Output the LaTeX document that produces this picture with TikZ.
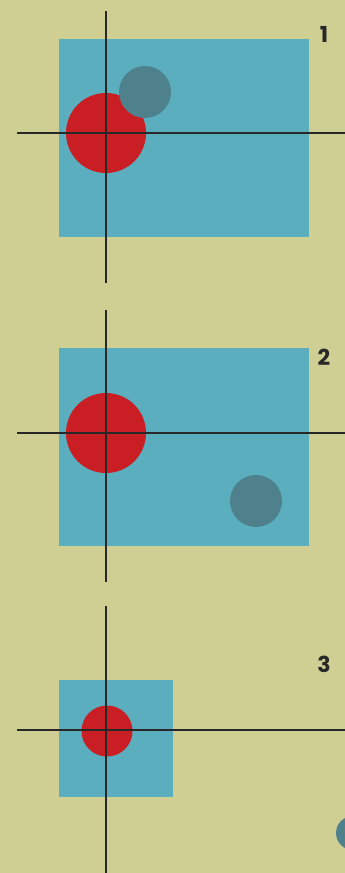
\documentclass[tikz,border=0pt]{standalone}
\usepackage{fontspec}
\setmainfont{Poppins}
\usepackage{xcolor}
\usetikzlibrary{positioning}
\definecolor{paper}{RGB}{208,207,147}
\definecolor{pool}{RGB}{91,174,190}
\definecolor{ballred}{RGB}{200,30,36}
\definecolor{ballgrey}{RGB}{78,129,140}
\definecolor{ink}{RGB}{40,40,40}

\begin{document}
\begin{tikzpicture}[x=1pt,y=-1pt,
					field/.style={fill=pool,draw=none,inner sep=0pt},
					bigball/.style={circle,fill=ballred,inner sep=0pt,minimum size=80pt},
					smallball/.style={circle,fill=ballred,inner sep=0pt,minimum size=51pt},
					target/.style={circle,fill=ballgrey,inner sep=0pt,minimum size=52pt},
					hair/.style={ink,line width=1.2pt},
					num/.style={font=\bfseries\fontsize{22}{22}\selectfont,text=ink,inner sep=0pt}]
				\fill[paper] (0,0) rectangle (345,873);
				\useasboundingbox (0,0) rectangle (345,873);
				% panel 1
				\node[field,minimum width=250pt,minimum height=198pt] (f1) at (184,138) {};
				\node[bigball] (r1) at (106,133) {};
				\node[target] (g1) at (145,92) {};
				\coordinate (t1) at (106,11);  \coordinate (b1) at (106,283);
				\coordinate (l1) at (17,133);  \coordinate (e1) at (345,133);
				\draw[hair] (t1)--(b1);
				\draw[hair] (l1)--(e1);
				\node[num] (n1) at (324,34) {1};
				% panel 2
				\node[field,minimum width=250pt,minimum height=198pt] (f2) at (184,447) {};
				\node[bigball] (r2) at (106,433) {};
				\node[target] (g2) at (256,501) {};
				\coordinate (t2) at (106,310); \coordinate (b2) at (106,582);
				\coordinate (l2) at (17,433);  \coordinate (e2) at (345,433);
				\draw[hair] (t2)--(b2);
				\draw[hair] (l2)--(e2);
				\node[num] (n2) at (324,357) {2};
				% panel 3
				\node[field,minimum width=114pt,minimum height=117pt] (f3) at (116,738.5) {};
				\node[smallball] (r3) at (107,731) {};
				\node[target,minimum size=34pt] (g3) at (353,833) {};
				\coordinate (t3) at (106,606); \coordinate (b3) at (106,873);
				\coordinate (l3) at (17,730);  \coordinate (e3) at (345,730);
				\draw[hair] (t3)--(b3);
				\draw[hair] (l3)--(e3);
				\node[num] (n3) at (324,664) {3};
			\end{tikzpicture}
\end{document}
